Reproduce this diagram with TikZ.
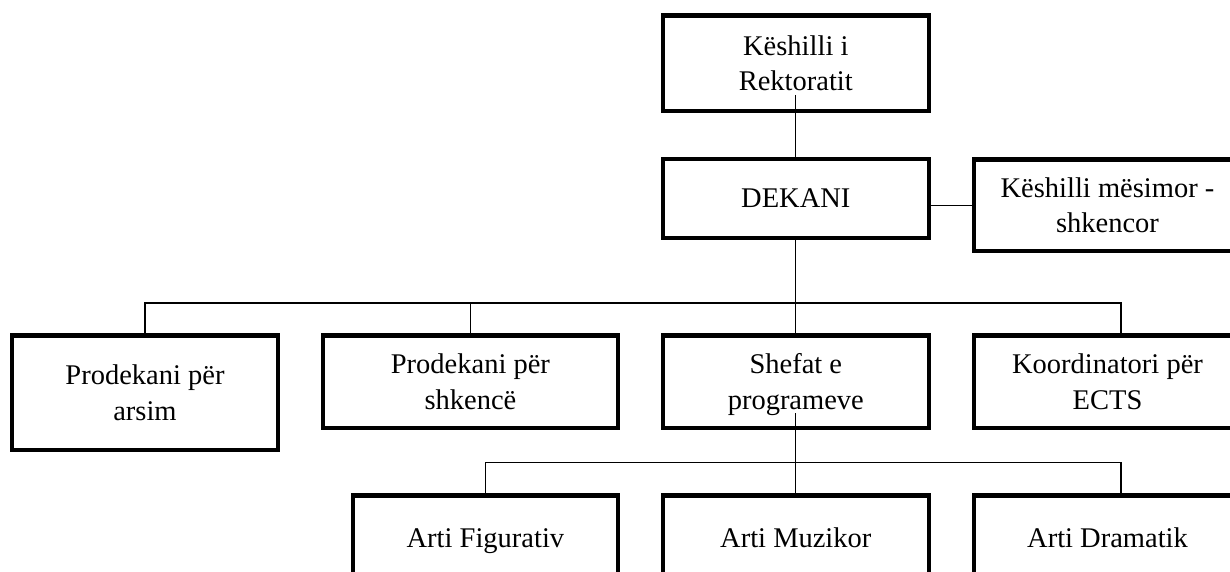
\documentclass[tikz,border=0pt]{standalone}
\usepackage{fontspec}
\setmainfont{Liberation Serif}
\begin{document}
\begin{tikzpicture}[x=1pt,y=-1pt,
  box/.style={draw, line width=4.3pt, rectangle, align=center, inner sep=0pt,
    font=\fontsize{28.5pt}{35.5pt}\selectfont},
  nodepth/.style={text depth=0pt},
  conn/.style={line width=1.3pt}]
\useasboundingbox (0,0) rectangle (1230,572);
\fill[white] (0,0) rectangle (1230,572);
\clip (0,0) rectangle (1230,572);
% boxes
\node[box, minimum width=265.8pt, minimum height=95.8pt] (rek) at (795.8,63.3) {Këshilli i\\Rektoratit};
\node[box, nodepth, minimum width=265.8pt, minimum height=79pt] (dek) at (795.8,198.4) {DEKANI};
\node[box, minimum width=267pt, minimum height=91.7pt] (kms) at (1107.5,205.35) {Këshilli mësimor -\\shkencor};
\node[box, minimum width=265.7pt, minimum height=114.7pt] (ars) at (145,392.85) {Prodekani për\\arsim};
\node[box, minimum width=295pt, minimum height=92.4pt] (shk) at (470.4,381.7) {Prodekani për\\shkencë};
\node[box, nodepth, minimum width=265.8pt, minimum height=92.4pt] (shf) at (795.8,381.7) {Shefat e\\programeve};
\node[box, minimum width=267pt, minimum height=92.4pt] (ects) at (1107.5,381.7) {Koordinatori për\\ECTS};
\node[box, nodepth, minimum width=265pt, minimum height=84.5pt] (fig) at (485.4,537.75) {Arti Figurativ};
\node[box, nodepth, minimum width=265.8pt, minimum height=84.5pt] (muz) at (795.8,537.75) {Arti Muzikor};
\node[box, nodepth, minimum width=267pt, minimum height=84.5pt] (dra) at (1107.5,537.75) {Arti Dramatik};
% junctions
\coordinate (rs) at (795.8,95);
\coordinate (b1) at (795.8,303);
\coordinate (ss) at (795.8,413);
\coordinate (b2) at (795.8,462.5);
% connectors
\draw[conn] (rs) -- (dek.north);
\draw[conn] (kms.west) -- (kms.west -| dek.east);
\draw[conn] (dek.south) -- (b1);
\draw[conn] (ars.north) |- (b1);
\draw[conn] (shk.north) -- (shk.north |- b1);
\draw[conn] (shf.north) -- (b1);
\draw[conn] ([xshift=13.5pt]ects.north) |- (b1);
\draw[conn] (ss) -- (b2);
\draw[conn] (fig.north) |- (b2);
\draw[conn] (muz.north) -- (b2);
\draw[conn] ([xshift=13.5pt]dra.north) |- (b2);
\end{tikzpicture}
\end{document}
